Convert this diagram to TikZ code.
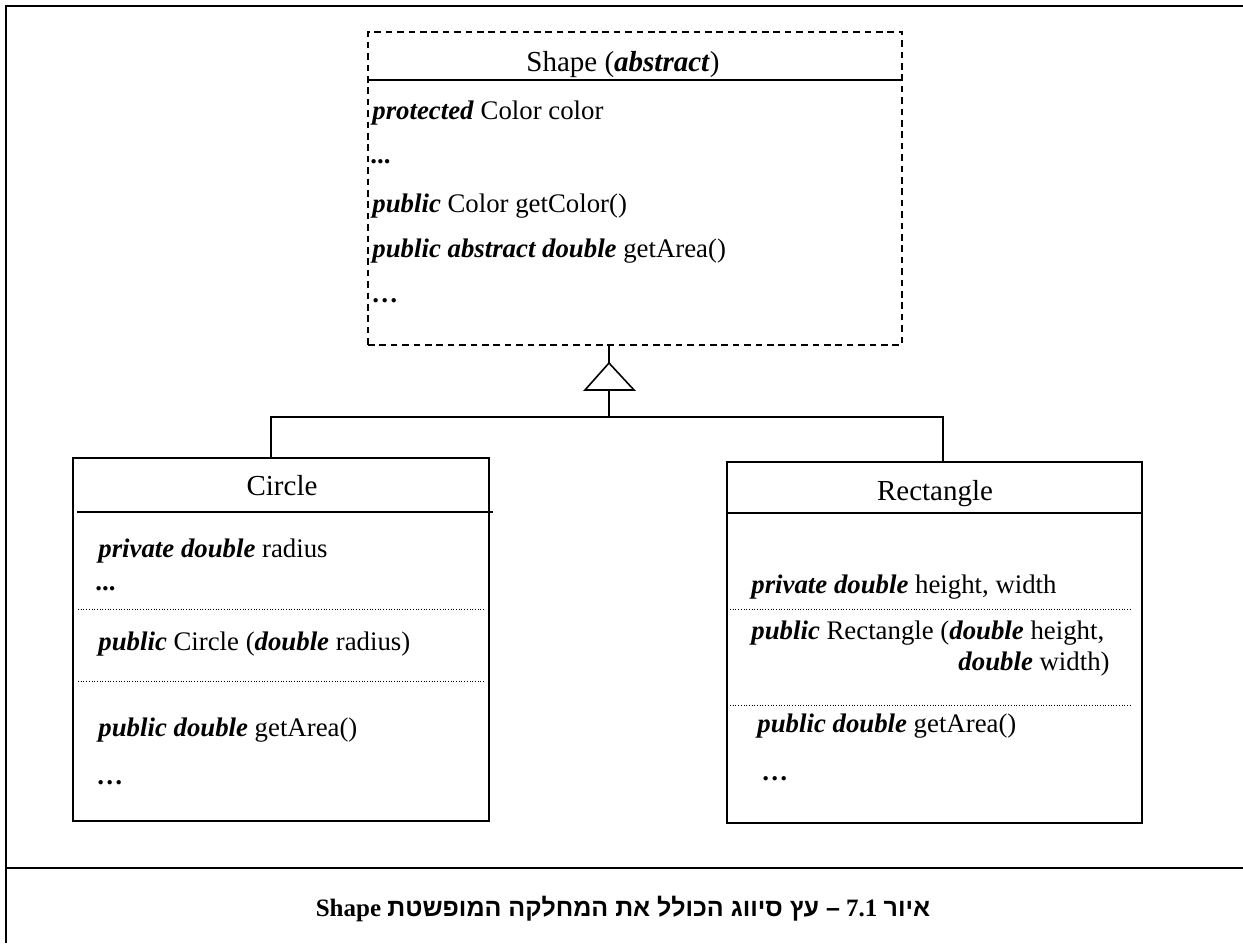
\documentclass[tikz,border=0pt]{standalone}
\usepackage{fontspec}
\setmainfont{Liberation Serif}
\newfontfamily\hebfont[Script=Hebrew]{Liberation Sans}
\TeXXeTstate=1
\usetikzlibrary{fit}
\tikzset{
  frameline/.style={line width=1.3pt},
  boxline/.style={line width=0.8pt},
  sepdots/.style={line width=0.45pt, dash pattern=on 0.45pt off 0.9pt},
  dashbox/.style={draw, boxline, dash pattern=on 3.3pt off 2.4pt, inner sep=0pt},
  solidbox/.style={draw, boxline, inner sep=0pt},
  body/.style={anchor=base west, inner sep=0pt, font=\fontsize{13.4}{16}\selectfont},
  ttl/.style={anchor=base, inner sep=0pt, font=\fontsize{14.5}{17}\selectfont},
  captiontext/.style={anchor=base, inner sep=0pt, font=\bfseries\fontsize{12.5}{15}\selectfont}
}
\newcommand{\bi}[1]{\textbf{\textit{#1}}}
\begin{document}
\begin{tikzpicture}[x=0.5pt,y=-0.5pt]
\useasboundingbox (0,0) rectangle (1243,943);
% outer frame
\draw[frameline] (6,943) -- (6,6) -- (1243,6);
\draw[frameline] (6,868) -- (1243,868);

% Shape (abstract) class
\node[dashbox, fit={(368,32) (902,345)}] (shape) {};
\draw[boxline] (368,80) -- (902,80);
\node[ttl] (shapeT) at (623,71) {Shape (\bi{abstract})};
\node[body] (s1) at (372,119) {\bi{protected} Color color};
\node[body] (s2) at (370,163) {\textbf{...}};
\node[body] (s3) at (372,212) {\bi{public} Color getColor()};
\node[body] (s4) at (372,257) {\bi{public abstract double} getArea()};
\node[body] (s5) at (371,302) {\textbf{…}};

% Circle class
\node[solidbox, fit={(73,458) (489,821)}] (circle) {};
\draw[boxline] (77,512) -- (493,512);
\node[ttl] (circleT) at (282,495) {Circle};
\node[body] (c1) at (98,557) {\bi{private double} radius};
\node[body] (c2) at (95,590) {\textbf{...}};
\draw[sepdots] (78,609) -- (485,609);
\node[body] (c3) at (98,650) {\bi{public} Circle (\bi{double} radius)};
\draw[sepdots] (78,681) -- (485,681);
\node[body] (c4) at (98,736) {\bi{public double} getArea()};
\node[body] (c5) at (96,784) {\textbf{…}};

% Rectangle class
\node[solidbox, fit={(727,462) (1142,823)}] (rect) {};
\draw[boxline] (727,513) -- (1142,513);
\node[ttl] (rectT) at (935,500) {Rectangle};
\node[body] (r1) at (751,593) {\bi{private double} height, width};
\draw[sepdots] (730,609) -- (1132,609);
\node[body] (r2) at (751,639) {\bi{public} Rectangle (\bi{double} height,};
\node[body, anchor=base east] (r3) at (1110,670) {\bi{double} width)};
\draw[sepdots] (730,705) -- (1132,705);
\node[body] (r4) at (757,732) {\bi{public double} getArea()};
\node[body] (r5) at (761,780) {\textbf{…}};

% generalization
\coordinate (apex) at (609,363);
\coordinate (base) at (609,390);
\coordinate (bus) at (609,417);
\coordinate (cN) at (271,458);
\coordinate (rN) at (943,462);
\draw[boxline] (shape.south -| apex) -- (apex);
\draw[boxline, line join=miter] (apex) -- (585,390) -- (634,390) -- cycle;
\draw[boxline] (base) -- (bus);
\draw[boxline] (bus) -| (cN);
\draw[boxline] (bus) -| (rN);

% caption
\node[captiontext] (caption) at (623,916) {\beginR{\hebfont איור} \beginL 7.1\endL{} {\hebfont – עץ סיווג הכולל את המחלקה המופשטת} \beginL Shape\endL\endR};
\end{tikzpicture}
\end{document}
